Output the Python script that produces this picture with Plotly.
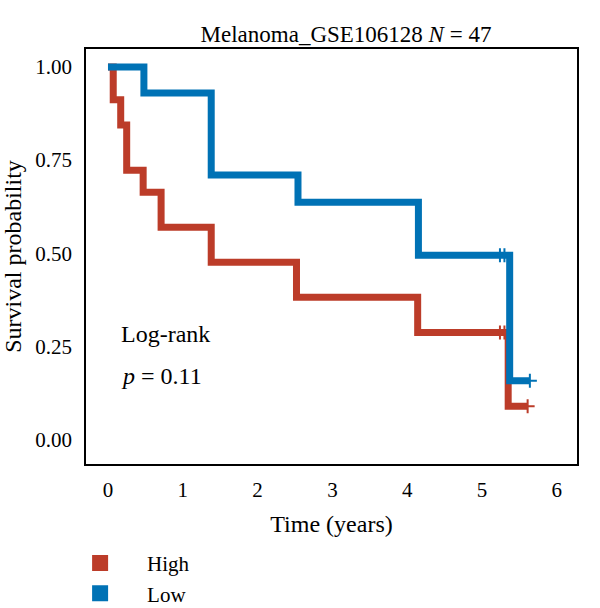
import plotly.graph_objects as go

# Kaplan-Meier step data
high_time = [0, 0.07, 0.17, 0.25, 0.47, 0.71, 1.38, 2.52, 4.14, 5.35, 5.61]
high_surv = [1.0, 0.912, 0.844, 0.723, 0.664, 0.570, 0.476, 0.382, 0.288, 0.090, 0.090]
low_time = [0, 0.48, 1.38, 2.54, 4.15, 5.37, 5.64]
low_surv = [1.0, 0.930, 0.710, 0.637, 0.495, 0.158, 0.158]

high_cens_time = [5.24, 5.30, 5.61]
high_cens_surv = [0.288, 0.288, 0.090]
low_cens_time = [5.24, 5.30, 5.64]
low_cens_surv = [0.495, 0.495, 0.158]

x_ticks = [0, 1, 2, 3, 4, 5, 6]
y_ticks = [0.0, 0.25, 0.5, 0.75, 1.0]
y_tick_labels = ["0.00", "0.25", "0.50", "0.75", "1.00"]

groups = ["High", "Low"]
RED = "#BC3C29"
BLUE = "#0072B5"
FONT = "Liberation Serif"

fig = go.Figure()

fig.add_trace(go.Scatter(x=high_time, y=high_surv, mode="lines", line=dict(color=RED, width=7, shape="hv"),
                         showlegend=False, hoverinfo="skip"))
fig.add_trace(go.Scatter(x=high_cens_time, y=high_cens_surv, mode="markers",
                         marker=dict(symbol="cross-thin-open", size=10, color=RED, line=dict(color=RED, width=2)),
                         showlegend=False, hoverinfo="skip"))
fig.add_trace(go.Scatter(x=low_time, y=low_surv, mode="lines", line=dict(color=BLUE, width=7, shape="hv"),
                         showlegend=False, hoverinfo="skip"))
fig.add_trace(go.Scatter(x=low_cens_time, y=low_cens_surv, mode="markers",
                         marker=dict(symbol="cross-thin-open", size=10, color=BLUE, line=dict(color=BLUE, width=2)),
                         showlegend=False, hoverinfo="skip"))

# legend entries
for name, col in zip(groups, [RED, BLUE]):
    fig.add_trace(go.Scatter(x=[None], y=[None], mode="markers", name=name,
                             marker=dict(symbol="square", size=16, color=col)))

fig.update_layout(
    width=600, height=608,
    margin=dict(l=86, r=23, t=49, b=144, autoexpand=False),
    paper_bgcolor="white", plot_bgcolor="white",
    font=dict(family=FONT, size=20, color="black"),
    title=dict(text="Melanoma_GSE106128 <i>N</i> = 47", x=346/600, xanchor="center",
               y=1 - 34/608, yanchor="middle", font=dict(family=FONT, size=23)),
    legend=dict(x=-0.067, y=-0.19, xanchor="left", yanchor="top", font=dict(family=FONT, size=21),
                bgcolor="rgba(0,0,0,0)", tracegroupgap=0, itemwidth=84),
    showlegend=True,
)
fig.update_xaxes(range=[-0.294, 6.27], tickvals=x_ticks, showgrid=False, zeroline=False,
                 showline=True, linecolor="black", linewidth=1.5, mirror=True, ticks="",
                 title_text="Time (years)", title_standoff=14,
                 tickfont=dict(family=FONT, size=21), ticklabelstandoff=6)
fig.update_yaxes(range=[-0.065, 1.048], tickvals=y_ticks, ticktext=y_tick_labels, showgrid=False,
                 zeroline=False, showline=True, linecolor="black", linewidth=1.5, mirror=True, ticks="",
                 title_text="Survival probability", title_standoff=12,
                 tickfont=dict(family=FONT, size=21), ticklabelstandoff=8)

fig.add_annotation(x=0.15, y=0.285, xref="x", yref="y", text="Log-rank", showarrow=False,
                   xanchor="left", font=dict(family=FONT, size=24))
fig.add_annotation(x=0.15, y=0.17, xref="x", yref="y", text="<i>p</i> = 0.11", showarrow=False,
                   xanchor="left", font=dict(family=FONT, size=24))

fig.write_html("out.html")
